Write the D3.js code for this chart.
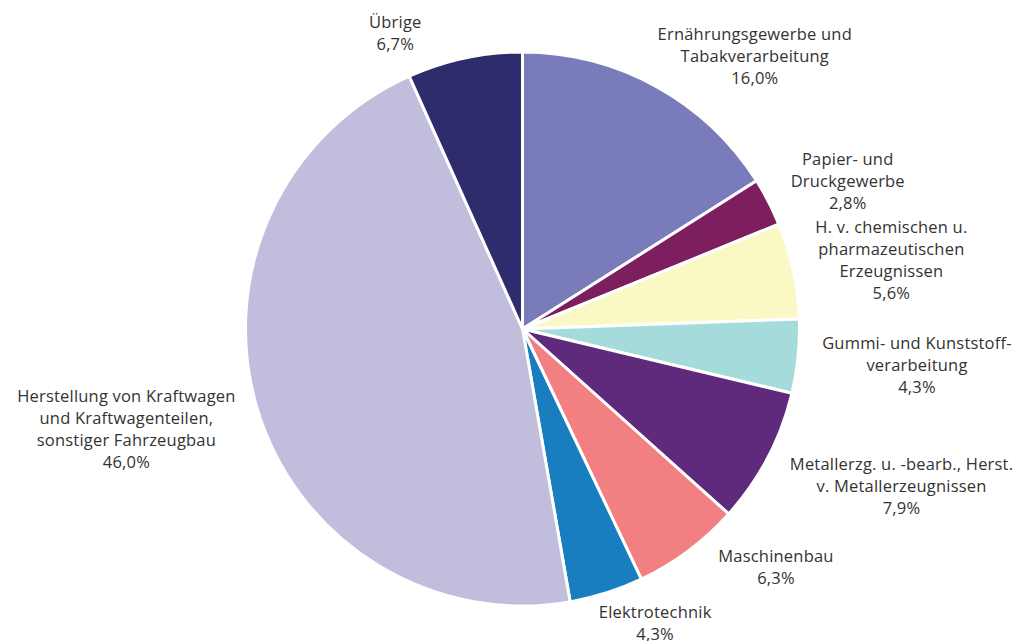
<!DOCTYPE html>
<html><head><meta charset="utf-8">
<script src="https://cdn.jsdelivr.net/npm/d3@7"></script>
<style>body{margin:0;background:#fff}svg{display:block}</style>
</head><body>
<svg id="c" width="1021" height="641"></svg>
<script>
const categories = [
  ["Ernährungsgewerbe und","Tabakverarbeitung"],
  ["Papier- und","Druckgewerbe"],
  ["H. v. chemischen u.","pharmazeutischen","Erzeugnissen"],
  ["Gummi- und Kunststoff-","verarbeitung"],
  ["Metallerzg. u. -bearb., Herst.","v. Metallerzeugnissen"],
  ["Maschinenbau"],
  ["Elektrotechnik"],
  ["Herstellung von Kraftwagen","und Kraftwagenteilen,","sonstiger Fahrzeugbau"],
  ["Übrige"]
];
const values = [16.0, 2.8, 5.6, 4.3, 7.9, 6.3, 4.3, 46.0, 6.7];
const valueLabels = ["16,0%","2,8%","5,6%","4,3%","7,9%","6,3%","4,3%","46,0%","6,7%"];
const colors = ["#797bbb","#7d1e5e","#faf8c4","#a6dbdc","#5f2a7b","#f28082","#187ebf","#c1bddd","#2e2c6d"];

const svg = d3.select("#c");
const cx = 522.5, cy = 329, r = 277;
const g = svg.append("g").attr("transform", `translate(${cx},${cy})`);

const pie = d3.pie().sort(null).value(d => d);
const arcs = pie(values);
const arc = d3.arc().innerRadius(0).outerRadius(r);

g.selectAll("path").data(arcs).join("path")
  .attr("d", arc)
  .attr("fill", (d,i) => colors[i])
  .attr("stroke", "#fff")
  .attr("stroke-width", 3)
  .attr("stroke-linejoin", "round");

// label placement: outside end, adjusted like the original layout
const nudge = [[-13,3],[4,9],[4,8],[6,2],[4,-2],[12,-6],[-2,8],[-4,-7],[-47,-3]];
const clamp = v => Math.max(-1, Math.min(1, v));
const lineH = 22;
arcs.forEach((d,i) => {
  const lines = categories[i].concat([valueLabels[i]]);
  const t = g.append("text")
    .attr("text-anchor","middle")
    .attr("font-family","'Open Sans', sans-serif")
    .attr("font-size","16.5px")
    .attr("letter-spacing","0.2px")
    .attr("fill","#333");
  lines.forEach((s,k) => t.append("tspan").attr("x",0).attr("y", k*lineH).text(s));
  const bb = t.node().getBBox();
  const w = bb.width, h = lines.length*lineH;
  const a = (d.startAngle + d.endAngle)/2;
  const sa = Math.sin(a), ca = Math.cos(a);
  const px = r*sa, py = -r*ca;
  const lx = px + w/2*clamp(2*sa) + 18*clamp(3*sa) + nudge[i][0];
  const ly = py - h/2*clamp(2*ca) + nudge[i][1];
  const firstY = ly - (lines.length-1)*lineH/2 + 6;
  t.attr("transform", `translate(${lx},${firstY})`);
});
</script>
</body></html>
